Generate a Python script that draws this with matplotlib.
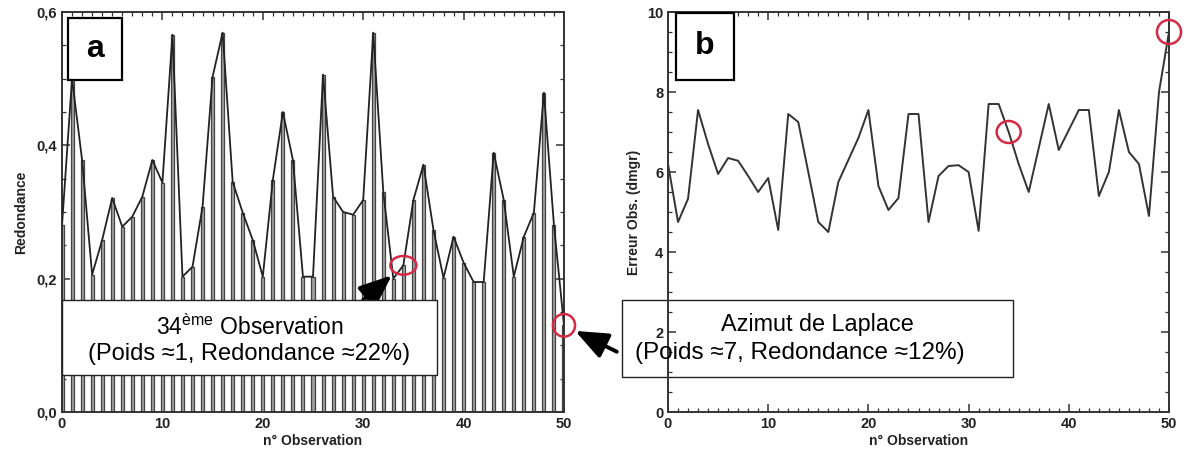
import numpy as np
import matplotlib.pyplot as plt
from matplotlib.patches import Rectangle, Ellipse
from matplotlib.ticker import MultipleLocator, FuncFormatter

plt.rcParams['font.family'] = ['Liberation Sans', 'DejaVu Sans']
plt.rcParams['mathtext.fontset'] = 'custom'
plt.rcParams['mathtext.rm'] = 'Liberation Sans'

# n° observation 0..50
obs = np.arange(0, 51)

# (a) redondance per observation
redondance = [0.28, 0.50, 0.378, 0.206, 0.258, 0.321, 0.278, 0.293, 0.323, 0.378,
              0.344, 0.566, 0.203, 0.218, 0.308, 0.503, 0.569, 0.345, 0.299, 0.258,
              0.203, 0.348, 0.45, 0.378, 0.203, 0.203, 0.506, 0.323, 0.30, 0.296,
              0.318, 0.569, 0.33, 0.20, 0.22, 0.318, 0.371, 0.273, 0.201, 0.263,
              0.224, 0.195, 0.195, 0.389, 0.318, 0.203, 0.263, 0.299, 0.479, 0.28,
              0.13]

# (b) erreur obs. (dmgr)
erreur = [6.2, 4.75, 5.33, 7.55, 6.7, 5.95, 6.35, 6.28, 5.9, 5.5,
          5.85, 4.55, 7.45, 7.25, 6.0, 4.75, 4.5, 5.75, 6.3, 6.85,
          7.55, 5.65, 5.05, 5.35, 7.45, 7.45, 4.75, 5.9, 6.15, 6.17,
          6.0, 4.53, 7.7, 7.7, 7.0, 6.2, 5.5, 6.6, 7.7, 6.55,
          7.05, 7.55, 7.55, 5.4, 6.0, 7.55, 6.5, 6.2, 4.9, 8.0,
          9.5]

obs_34 = 34
obs_laplace = 50

W, H = 1187, 468
fig = plt.figure(figsize=(W / 100, H / 100), dpi=100)

ax_a = fig.add_axes([62 / W, (H - 412) / H, 502 / W, 400 / H])
ax_b = fig.add_axes([668 / W, (H - 412) / H, 501 / W, 400 / H])

lab_font = dict(fontsize=10, fontweight='bold', color='#222222')


def style_axes(ax):
    for s in ax.spines.values():
        s.set_linewidth(1.4)
        s.set_color('#333333')
    ax.tick_params(which='both', direction='in', top=True, right=True,
                   colors='#333333', labelcolor='#222222')
    ax.tick_params(which='major', length=6, width=1.1, labelsize=10.5)
    ax.tick_params(which='minor', length=3, width=0.9)
    for lbl in ax.get_xticklabels() + ax.get_yticklabels():
        lbl.set_fontweight('bold')
    ax.xaxis.set_major_locator(MultipleLocator(10))
    ax.xaxis.set_minor_locator(MultipleLocator(1))


# ---- panel a
ax_a.bar(obs, redondance, width=0.3, color='#a0a0a0', edgecolor='#444444',
         linewidth=0.9, zorder=2)
ax_a.plot(obs, redondance, color='#222222', lw=1.3, zorder=3)
ax_a.set_xlim(0, 50)
ax_a.set_ylim(0, 0.6)
ax_a.yaxis.set_major_locator(MultipleLocator(0.2))
ax_a.yaxis.set_minor_locator(MultipleLocator(0.05))
ax_a.yaxis.set_major_formatter(FuncFormatter(lambda v, p: f"{v:.1f}".replace('.', ',')))
style_axes(ax_a)
ax_a.set_xlabel('n° Observation', labelpad=2, **lab_font)
ax_a.set_ylabel('Redondance', labelpad=6, **lab_font)

# ---- panel b
ax_b.set_axisbelow(False)  # ticks and labels above the text box
ax_b.plot(obs, erreur, color='#333333', lw=1.4, zorder=1.5)
ax_b.set_xlim(0, 50)
ax_b.set_ylim(0, 10)
ax_b.yaxis.set_major_locator(MultipleLocator(2))
ax_b.yaxis.set_minor_locator(MultipleLocator(0.5))
style_axes(ax_b)
ax_b.set_xlabel('n° Observation', labelpad=2, **lab_font)
ax_b.set_ylabel('Erreur Obs. (dmgr)', labelpad=4, **lab_font)

# red circles on the observations
red = '#d42a45'
for ax, vals, xs, w, h in [(ax_a, redondance, obs_34, 2.6, 0.028),
                           (ax_a, redondance, obs_laplace, 2.2, 0.034),
                           (ax_b, erreur, obs_34, 2.4, 0.55),
                           (ax_b, erreur, obs_laplace, 2.4, 0.6)]:
    ax.add_patch(Ellipse((xs, vals[xs]), w, h, fill=False, edgecolor=red,
                         lw=1.8, clip_on=False, zorder=6))

# panel letters
for ax, letter, box in [(ax_a, 'a', (68, 18, 122, 80)), (ax_b, 'b', (676, 13, 734, 80))]:
    x0, y0, x1, y1 = box
    fig.add_artist(Rectangle((x0 / W, (H - y1) / H), (x1 - x0) / W, (y1 - y0) / H,
                             transform=fig.transFigure, facecolor='white',
                             edgecolor='black', lw=1.6, zorder=5))
    fig.text((x0 + x1) / 2 / W, (H - (y0 + y1) / 2) / H, letter, ha='center',
             va='center', fontsize=23, fontweight='bold', zorder=6)

# annotation box a
fig.add_artist(Rectangle((62 / W, (H - 375) / H), 375 / W, 75 / H,
                         transform=fig.transFigure, facecolor='white',
                         edgecolor='#222222', lw=1.0, zorder=5))
fig.text(250 / W, (H - 327) / H, '34$^{\\mathrm{ème}}$ Observation', ha='center',
         va='center', fontsize=16.5, zorder=6)
fig.text(249 / W, (H - 354) / H, '(Poids ≈1, Redondance ≈22%)', ha='center',
         va='center', fontsize=17, zorder=6)

# annotation box b: under the axis spine / ticks of panel b, as in the original
ax_b.add_patch(Rectangle((622 / W, (H - 377) / H), 391 / W, 77 / H,
                         transform=fig.transFigure, facecolor='white',
                         edgecolor='#222222', lw=1.0, zorder=2, clip_on=False))
ax_b.text(817 / W, (H - 325) / H, 'Azimut de Laplace', ha='center',
          va='center', fontsize=16.8, zorder=3, transform=fig.transFigure)
ax_b.text(800 / W, (H - 353) / H, '(Poids ≈7, Redondance ≈12%)', ha='center',
          va='center', fontsize=17.5, zorder=3, transform=fig.transFigure)

# arrows
arrow = dict(arrowstyle='-|>,head_length=1.1,head_width=0.45', color='black',
             lw=2.8, mutation_scale=18, shrinkA=0)
ax_a.annotate('', xy=(obs_34, redondance[obs_34]), xytext=(-29, -25),
              textcoords='offset points',
              arrowprops=dict(arrow, shrinkB=11), annotation_clip=False, zorder=7)
ax_a.annotate('', xy=(obs_laplace, redondance[obs_laplace]), xytext=(38, -19),
              textcoords='offset points',
              arrowprops=dict(arrow, shrinkB=9), annotation_clip=False, zorder=7)

fig.savefig('out.png', dpi=100)
